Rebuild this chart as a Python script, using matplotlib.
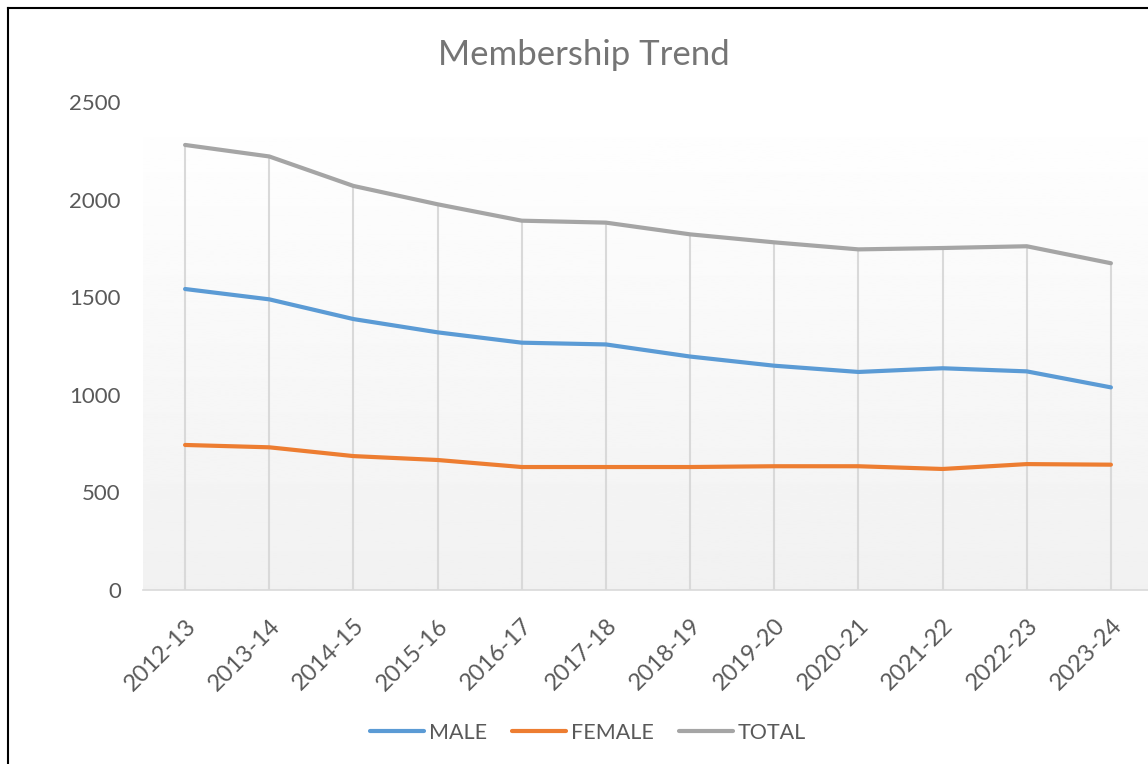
import matplotlib.pyplot as plt
import numpy as np
from matplotlib.lines import Line2D

# данные
years = ['2012-13', '2013-14', '2014-15', '2015-16', '2016-17', '2017-18',
         '2018-19', '2019-20', '2020-21', '2021-22', '2022-23', '2023-24']
male = [1542, 1489, 1388, 1320, 1267, 1258, 1196, 1149, 1117, 1136, 1120, 1038]
female = [743, 731, 686, 666, 630, 630, 630, 634, 634, 620, 645, 642]
total = [2280, 2221, 2070, 1976, 1892, 1882, 1822, 1781, 1745, 1752, 1761, 1674]

plt.rcParams['font.family'] = ['Lato', 'DejaVu Sans']

fig = plt.figure(figsize=(11.48, 7.64), dpi=100)
ax = fig.add_axes([143 / 1148, 174 / 764, 1010 / 1148, 488 / 764])

x = np.arange(len(years))

# градиентный фон области построения
grad = np.linspace(1.0, 0.945, 256).reshape(-1, 1)
ax.imshow(grad, cmap='gray', vmin=0, vmax=1, aspect='auto',
          extent=[0, 1, 0, 1], transform=ax.transAxes, zorder=0)

# вертикальные линии до точек TOTAL
ax.vlines(x, 0, total, color='#d9d9d9', linewidth=1.5, zorder=1)

ax.plot(x, male, color='#5b9bd5', linewidth=3, solid_capstyle='round', label='MALE', zorder=3)
ax.plot(x, female, color='#ed7d31', linewidth=3, solid_capstyle='round', label='FEMALE', zorder=3)
ax.plot(x, total, color='#a5a5a5', linewidth=3, solid_capstyle='round', label='TOTAL', zorder=3)

ax.set_xlim(-0.5, len(years) - 0.5)
ax.set_ylim(0, 2500)
ax.set_yticks([0, 500, 1000, 1500, 2000, 2500])
ax.set_xticks(x)
ax.set_xticklabels(years, rotation=45, ha='right', rotation_mode='anchor')
ax.tick_params(axis='both', length=0, labelsize=16, colors='#595959')
ax.tick_params(axis='x', labelsize=17, pad=18)
ax.tick_params(axis='y', pad=16)

for s in ['top', 'right', 'left']:
    ax.spines[s].set_visible(False)
ax.spines['bottom'].set_color('#d9d9d9')
ax.spines['bottom'].set_linewidth(1.2)

fig.text(584 / 1148, 1 - 55 / 764, 'Membership Trend', ha='center', va='center',
         fontsize=25, color='#757575')

fig.legend(loc='center', bbox_to_anchor=(588 / 1148, 1 - 733 / 764), ncol=3,
           frameon=False, fontsize=15.5, labelcolor='#595959', handlelength=2.5,
           columnspacing=1.15, handletextpad=0.25)

# рамка диаграммы
fig.add_artist(Line2D([8 / 1148, 8 / 1148], [0, 1 - 8 / 764], color='black', linewidth=1.5))
fig.add_artist(Line2D([8 / 1148, 1], [1 - 8 / 764, 1 - 8 / 764], color='black', linewidth=1.5))

fig.savefig('out.png', dpi=100)
